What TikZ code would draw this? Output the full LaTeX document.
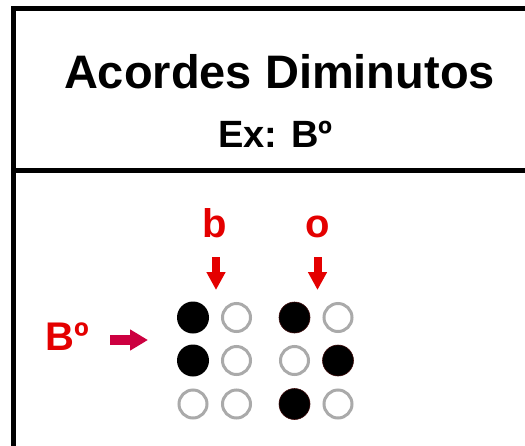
\documentclass[tikz,border=0pt]{standalone}
\usepackage{fontspec}
\setmainfont{Liberation Sans}
\usetikzlibrary{arrows.meta}
\definecolor{txtred}{RGB}{228,0,0}
\definecolor{arrred}{RGB}{204,0,64}
\definecolor{dotgray}{RGB}{170,170,170}
\definecolor{dotedge}{RGB}{60,10,10}
\tikzset{
  frame/.style={line width=5pt, line join=miter, line cap=rect},
  full/.style={circle, fill=black, minimum size=32pt, inner sep=0pt},
  fulledge/.style={circle, fill=black, draw=dotedge, line width=0.6pt, minimum size=31pt, inner sep=0pt},
  empty/.style={circle, draw=dotgray, line width=3pt, fill=white, minimum size=28pt, inner sep=0pt},
  redlbl/.style={text=txtred, font=\bfseries\fontsize{40}{40}\selectfont, inner sep=0pt},
  downarr/.style={draw=txtred, line width=8pt, -{Triangle[width=18pt,length=18pt]}},
  rightarr/.style={draw=arrred, line width=10pt, -{Triangle[width=20pt,length=18pt]}}
}
\begin{document}
\begin{tikzpicture}[x=1pt,y=-1pt]
\useasboundingbox (0,0) rectangle (525,445);
\fill[white] (0,0) rectangle (525,445);
% frame
\draw[frame] (13.5,450) -- (13.5,8.5) -- (530,8.5);
\draw[frame] (13.5,170) -- (530,170);
% titles
\node[anchor=base, inner sep=0pt, font=\bfseries\fontsize{47}{47}\selectfont] (title) at (279.5,88) {Acordes Diminutos};
\node[anchor=base, inner sep=0pt, font=\bfseries\fontsize{38}{38}\selectfont] (sub) at (275.5,147) {Ex: Bº};
% red labels
\node[redlbl, anchor=base] (lb) at (214.5,237) {b};
\node[redlbl, anchor=base] (lo) at (318,237) {o};
\node[redlbl, anchor=base west] (lB) at (45,350) {Bº};
% arrows
\coordinate (b1) at (216,257);
\coordinate (b2) at (216,290);
\coordinate (o1) at (317.5,257);
\coordinate (o2) at (317.5,290);
\coordinate (r1) at (110,340);
\coordinate (r2) at (148,340);
\draw[downarr] (b1) -- (b2);
\draw[downarr] (o1) -- (o2);
\draw[rightarr] (r1) -- (r2);
% braille b
\node[full] (d11) at (193,317.5) {};
\node[full] (d12) at (193,360.5) {};
\node[empty] (d13) at (193,404) {};
\node[empty] (d21) at (236.5,317.5) {};
\node[empty] (d22) at (236.5,360.5) {};
\node[empty] (d23) at (236.5,404) {};
% braille o
\node[fulledge] (d31) at (294.5,317.5) {};
\node[empty] (d32) at (294.5,360.5) {};
\node[fulledge] (d33) at (294.5,404) {};
\node[empty] (d41) at (338,317.5) {};
\node[fulledge] (d42) at (338,360.5) {};
\node[empty] (d43) at (338,404) {};
\end{tikzpicture}
\end{document}
